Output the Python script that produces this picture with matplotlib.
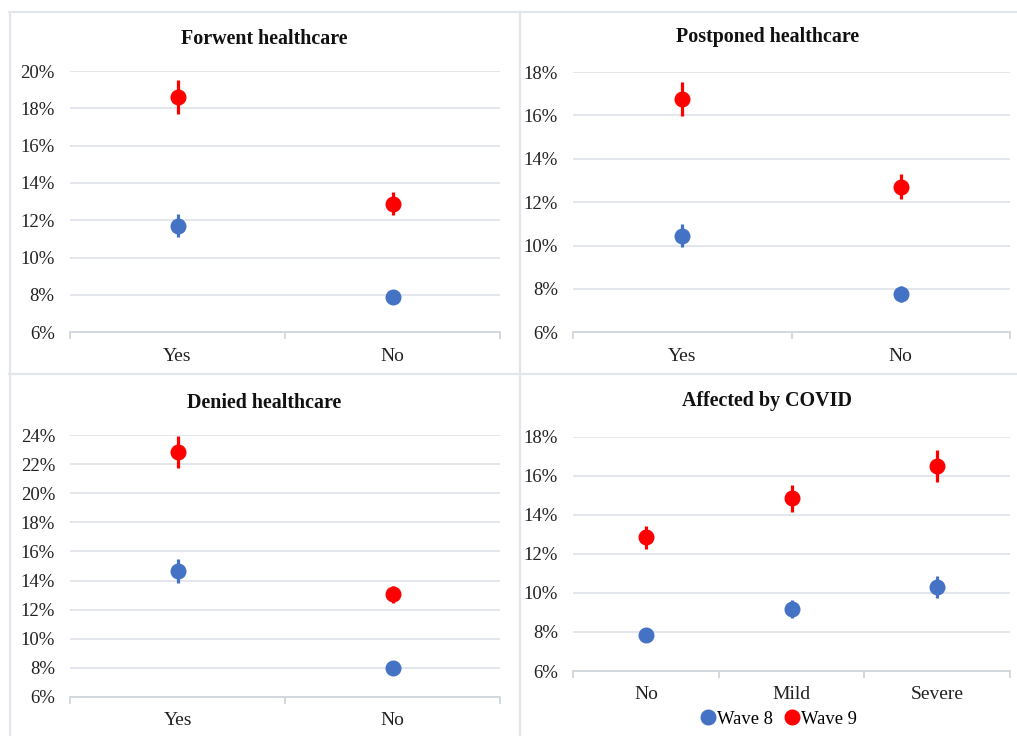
import matplotlib
matplotlib.use("Agg")
import matplotlib.pyplot as plt
from matplotlib.lines import Line2D
from matplotlib.ticker import FuncFormatter

plt.rcParams['font.family'] = ['Liberation Serif', 'DejaVu Serif']

W, H = 1017, 736

# Share (%) per group, wave 8 vs wave 9, with half-width of the confidence interval
forwent_cats = ['Yes', 'No']
forwent_w8 = [11.7, 7.9]
forwent_w8_err = [0.62, 0.25]
forwent_w9 = [18.6, 12.9]
forwent_w9_err = [0.9, 0.6]

postponed_cats = ['Yes', 'No']
postponed_w8 = [10.45, 7.77]
postponed_w8_err = [0.53, 0.37]
postponed_w9 = [16.76, 12.71]
postponed_w9_err = [0.8, 0.58]

denied_cats = ['Yes', 'No']
denied_w8 = [14.66, 8.0]
denied_w8_err = [0.82, 0.22]
denied_w9 = [22.85, 13.05]
denied_w9_err = [1.13, 0.57]

covid_cats = ['No', 'Mild', 'Severe']
covid_w8 = [7.86, 9.18, 10.31]
covid_w8_err = [0.22, 0.48, 0.58]
covid_w9 = [12.84, 14.84, 16.5]
covid_w9_err = [0.6, 0.7, 0.82]

titles = ['Forwent healthcare', 'Postponed healthcare', 'Denied healthcare', 'Affected by COVID']
y_tops = [20, 18, 24, 18]

BLUE = '#4472C4'
RED = '#FF0000'
GRID = '#e0e4ea'
FRAME = '#e2e6ec'

panels = [
    (forwent_cats, forwent_w8, forwent_w8_err, forwent_w9, forwent_w9_err),
    (postponed_cats, postponed_w8, postponed_w8_err, postponed_w9, postponed_w9_err),
    (denied_cats, denied_w8, denied_w8_err, denied_w9, denied_w9_err),
    (covid_cats, covid_w8, covid_w8_err, covid_w9, covid_w9_err),
]

# plot areas in pixels: left, right, top, bottom
boxes = [
    (70, 500, 71, 332.3),
    (573.3, 1009.7, 72, 332.3),
    (70.3, 500.3, 435.3, 696.7),
    (573.3, 1009.7, 436.7, 671),
]
# title centre x and baseline y in pixels
title_pos = [(264.5, 44.3), (768, 41.7), (264.5, 408.3), (767, 405.7)]

fig = plt.figure(figsize=(W / 100, H / 100), dpi=100)

# light frames around each of the four charts
def frame_line(xs, ys):
    fig.add_artist(Line2D([x / W for x in xs], [1 - y / H for y in ys],
                          color=FRAME, lw=1.6, transform=fig.transFigure))

frame_line([9, W], [12, 12])
frame_line([9, W], [374, 374])
frame_line([10, 10], [12, H])
frame_line([520, 520], [12, H])

pct = FuncFormatter(lambda v, _: f'{v:.0f}%')

for i, (cats, w8, e8, w9, e9) in enumerate(panels):
    l, r, t, b = boxes[i]
    ax = fig.add_axes([l / W, 1 - b / H, (r - l) / W, (b - t) / H])
    n = len(cats)
    xs = [k + 0.5 for k in range(n)]

    ax.errorbar(xs, w8, yerr=e8, fmt='o', color=BLUE, ms=10.5, elinewidth=2.3,
                capsize=0, zorder=3, label='Wave 8')
    ax.errorbar(xs, w9, yerr=e9, fmt='o', color=RED, ms=10.5, elinewidth=2.3,
                capsize=0, zorder=3, label='Wave 9')

    ax.set_xlim(0, n)
    ax.set_ylim(6, y_tops[i])
    ax.set_yticks(range(6, y_tops[i] + 1, 2))
    ax.yaxis.set_major_formatter(pct)
    ax.set_xticks(xs)
    ax.set_xticklabels(cats)
    ax.set_xticks(range(n + 1), minor=True)

    ax.yaxis.grid(True, color=GRID, lw=1.3)
    ax.set_axisbelow(True)
    for s in ['top', 'left', 'right']:
        ax.spines[s].set_visible(False)
    ax.spines['bottom'].set_color('#d3d8df')
    ax.spines['bottom'].set_linewidth(1.4)

    ax.tick_params(axis='y', length=0, pad=11, labelsize=13.5, labelcolor='#222222')
    ax.tick_params(axis='x', which='major', length=0, pad=11, labelsize=14,
                   labelcolor='#222222')
    ax.tick_params(axis='x', which='minor', length=5, width=1.4, color='#d3d8df')

    tx, ty = title_pos[i]
    fig.text(tx / W, 1 - ty / H, titles[i], ha='center', va='baseline',
             fontsize=14.4, fontweight='bold', color='#111111')

handles = [
    Line2D([], [], marker='o', ls='', color=BLUE, ms=10.5, label='Wave 8'),
    Line2D([], [], marker='o', ls='', color=RED, ms=10.5, label='Wave 9'),
]
fig.legend(handles=handles, loc='center', bbox_to_anchor=(779 / W, 1 - 719 / H),
           ncol=2, frameon=False, fontsize=13.4, handlelength=0.8,
           handletextpad=0.1, columnspacing=0.6, borderpad=0)

fig.savefig('out.png', dpi=100, facecolor='white')
